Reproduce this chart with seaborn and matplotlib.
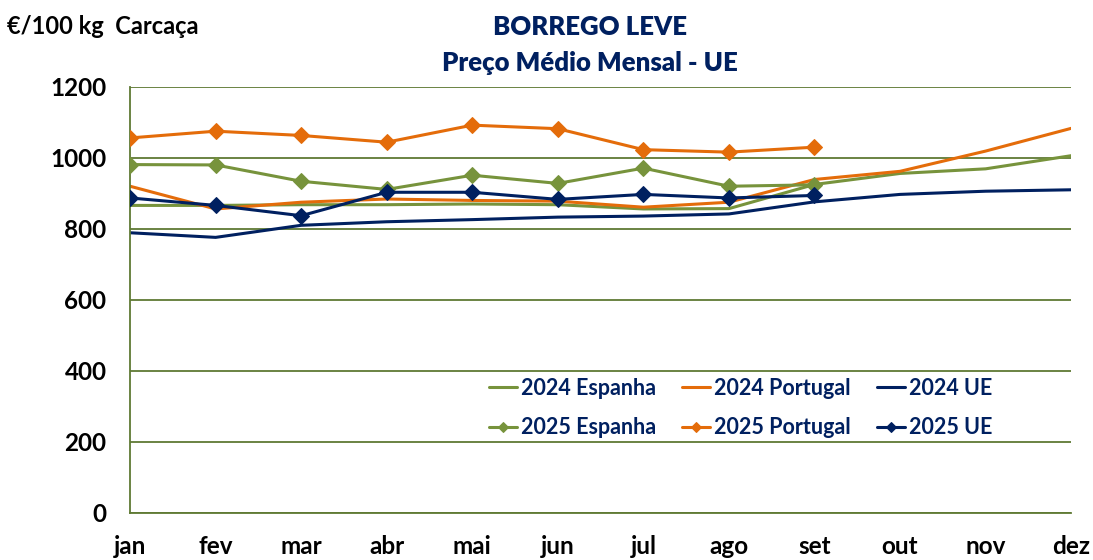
import matplotlib
matplotlib.use("Agg")
import matplotlib.pyplot as plt
import seaborn as sns
import pandas as pd

meses = ['jan', 'fev', 'mar', 'abr', 'mai', 'jun', 'jul', 'ago', 'set', 'out', 'nov', 'dez']

esp_2024 = [866, 866, 868, 868, 870, 868, 856, 857, 925, 956, 969, 1006]
por_2024 = [920, 856, 875, 884, 880, 878, 861, 875, 939, 962, 1019, 1083]
ue_2024 = [789, 776, 810, 820, 826, 833, 836, 842, 876, 897, 906, 910]
esp_2025 = [981, 980, 934, 911, 951, 928, 971, 920, 924]
por_2025 = [1056, 1075, 1063, 1044, 1092, 1082, 1023, 1016, 1030]
ue_2025 = [887, 866, 837, 903, 903, 883, 897, 887, 894]

verde = '#77933C'
laranja = '#E46C0A'
azul = '#002060'
grelha = '#5F7A34'

series = [
    ('2024 Espanha', esp_2024, verde, None),
    ('2025 Espanha', esp_2025, verde, 'D'),
    ('2024 Portugal', por_2024, laranja, None),
    ('2025 Portugal', por_2025, laranja, 'D'),
    ('2024 UE', ue_2024, azul, None),
    ('2025 UE', ue_2025, azul, 'D'),
]

sns.set_style('white')
plt.rcParams['font.family'] = ['Lato', 'DejaVu Sans']

fig = plt.figure(figsize=(10.93, 5.6), dpi=100)
ax = fig.add_axes([0.119, 0.084, 0.861, 0.761])

# desenhar primeiro as de 2024 para as de 2025 ficarem por cima
ordem = [0, 2, 4, 1, 3, 5]
for i in ordem:
    nome, valores, cor, marca = series[i]
    df = pd.DataFrame({'mes': range(len(valores)), 'preco': valores})
    sns.lineplot(data=df, x='mes', y='preco', ax=ax, color=cor, lw=2.2,
                 marker=marca, markersize=8, markeredgecolor=cor,
                 label=nome, zorder=3 if marca else 2)

ax.set_xlim(0, 11)
ax.set_ylim(0, 1200)
ax.set_yticks(range(0, 1201, 200))
ax.set_xticks(range(12))
ax.set_xticklabels(meses)
ax.set_xlabel('')
ax.set_ylabel('')
ax.grid(axis='y', color=grelha, lw=1.3)
ax.set_axisbelow(True)

for s in ['top', 'right']:
    ax.spines[s].set_visible(False)
for s in ['left', 'bottom']:
    ax.spines[s].set_color(grelha)
    ax.spines[s].set_linewidth(1.3)

ax.tick_params(axis='x', direction='out', length=6, color=grelha, width=1.3, pad=10)
ax.tick_params(axis='y', direction='out', length=6, color=grelha, width=1.3, pad=11)
for t in ax.get_xticklabels() + ax.get_yticklabels():
    t.set_fontweight('bold')
    t.set_fontsize(17.5)
    t.set_color('black')

handles, labels = ax.get_legend_handles_labels()
mapa = dict(zip(labels, handles))
nomes = [s[0] for s in series]
leg = ax.legend([mapa[n] for n in nomes], nomes, ncol=3, frameon=False,
                loc='center', bbox_to_anchor=(0.649, 0.246), handlelength=1.3,
                handletextpad=0.2, columnspacing=1.2, labelspacing=0.85,
                markerscale=0.7, prop={'weight': 'bold', 'size': 15.5})
for t in leg.get_texts():
    t.set_color(azul)

fig.text(0.54, 0.952, 'BORREGO LEVE', ha='center', va='center',
         fontsize=18.5, fontweight='heavy', color=azul)
fig.text(0.54, 0.887, 'Preço Médio Mensal - UE', ha='center', va='center',
         fontsize=18.5, fontweight='heavy', color=azul)
fig.text(0.006, 0.952, '€/100 kg  Carcaça', ha='left', va='center',
         fontsize=17, fontweight='bold', color='black')

fig.savefig('out.png', dpi=100)
